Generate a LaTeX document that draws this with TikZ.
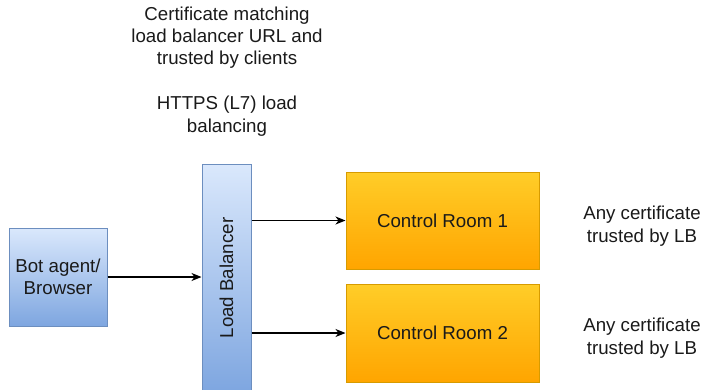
\documentclass[tikz,border=0pt]{standalone}
\usepackage{fontspec}
\setmainfont{Liberation Sans}
\usetikzlibrary{arrows.meta}
\definecolor{bluetop}{HTML}{DAE8FC}
\definecolor{bluebot}{HTML}{7EA6E0}
\definecolor{blueline}{HTML}{6C8EBF}
\definecolor{orgtop}{HTML}{FFCD28}
\definecolor{orgbot}{HTML}{FFA500}
\definecolor{orgline}{HTML}{D79B00}
\definecolor{txt}{HTML}{1A1A1A}
\tikzset{
  bluebox/.style={draw=blueline, line width=1pt, top color=bluetop, bottom color=bluebot, inner sep=0pt, align=center, text=txt},
  orangebox/.style={draw=orgline, line width=1pt, top color=orgtop, bottom color=orgbot, inner sep=0pt, align=center, text=txt},
  freetext/.style={align=center, inner sep=0pt, text=txt},
  conn/.style={draw=black, line width=1.2pt, -{Stealth[length=10pt,width=8pt,inset=3pt]}}
}
\begin{document}
\begin{tikzpicture}[x=1pt, y=-1pt, font=\fontsize{18.7}{22.4}\selectfont]
\useasboundingbox[fill=white] (0,0) rectangle (706,389);
\node[bluebox, minimum width=98pt, minimum height=98pt] (bot) at (58,277) {Bot agent/\\Browser};
\node[bluebox, minimum width=49pt, minimum height=228pt] (lb) at (226.5,278) {};
\node[rotate=90, text=txt, inner sep=0pt] (lbtext) at (lb.center) {Load Balancer};
\node[orangebox, minimum width=193pt, minimum height=97pt] (cr1) at (442.5,220.5) {Control Room 1};
\node[orangebox, minimum width=193pt, minimum height=98pt] (cr2) at (442.5,333) {Control Room 2};
\node[freetext, anchor=base] (top) at (227,132) {Certificate matching\\load balancer URL and\\trusted by clients\\[22.4pt]HTTPS (L7) load\\balancing};
\node[freetext, anchor=base] (r1) at (642,242) {Any certificate\\trusted by LB};
\node[freetext, anchor=base] (r2) at (642,354) {Any certificate\\trusted by LB};
\draw[conn] (bot.east) -- (lb.west |- bot.east);
\draw[conn] (lb.east |- cr1.west) -- (cr1.west);
\draw[conn] (lb.east |- cr2.west) -- (cr2.west);
\end{tikzpicture}
\end{document}
